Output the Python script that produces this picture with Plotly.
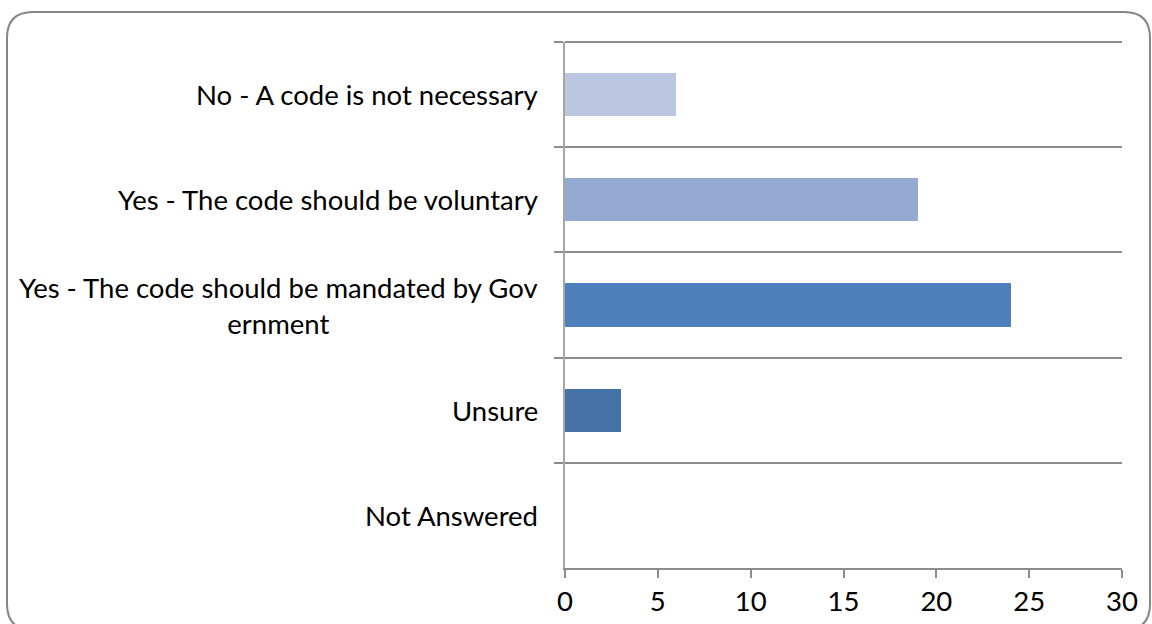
import plotly.graph_objects as go

# Survey responses: should there be a code?
categories = [
    "No - A code is not necessary",
    "Yes - The code should be voluntary",
    "Yes - The code should be mandated by Government",
    "Unsure",
    "Not Answered",
]
label_text = [
    "No - A code is not necessary",
    "Yes - The code should be voluntary",
    "Yes - The code should be mandated by Gov<br>ernment",
    "Unsure",
    "Not Answered",
]
counts = [6, 19, 24, 3, 0]
bar_colors = ["#BBC7E0", "#95AAD2", "#4E80BC", "#4573A8", "#3C6496"]
x_ticks = [0, 5, 10, 15, 20, 25, 30]

W, H = 1152, 624
M_L, M_R, M_T, M_B = 565, 30, 42, 56
PW, PH = W - M_L - M_R, H - M_T - M_B

FONT = "Lato"
FSIZE = 27.5
GRID = "#8C8C8C"


def px_x(p):
    return (p - M_L) / PW


def px_y(p):
    return (H - M_B - p) / PH


fig = go.Figure(
    go.Bar(
        x=counts,
        y=categories,
        orientation="h",
        width=0.41,
        marker=dict(color=bar_colors, line=dict(width=0)),
        hoverinfo="x+y",
    )
)

# Outer rounded frame
x0, y0, x1, y1, r = 7, 12, 1150, 630, 26
path = (
    f"M {px_x(x0 + r)} {px_y(y0)} L {px_x(x1 - r)} {px_y(y0)} "
    f"Q {px_x(x1)} {px_y(y0)} {px_x(x1)} {px_y(y0 + r)} "
    f"L {px_x(x1)} {px_y(y1 - r)} "
    f"Q {px_x(x1)} {px_y(y1)} {px_x(x1 - r)} {px_y(y1)} "
    f"L {px_x(x0 + r)} {px_y(y1)} "
    f"Q {px_x(x0)} {px_y(y1)} {px_x(x0)} {px_y(y1 - r)} "
    f"L {px_x(x0)} {px_y(y0 + r)} "
    f"Q {px_x(x0)} {px_y(y0)} {px_x(x0 + r)} {px_y(y0)} Z"
)
shapes = [
    dict(type="path", xref="paper", yref="paper", path=path,
         line=dict(color="#868686", width=2), layer="below"),
    # gridline on the top category boundary
    dict(type="line", xref="paper", yref="paper", x0=0, x1=1, y0=1, y1=1,
         line=dict(color=GRID, width=2), layer="below"),
]

annotations = [
    dict(
        text=t, x=px_x(540), xref="paper", y=c, yref="y",
        xanchor="right", yanchor="middle", align="center", showarrow=False,
        font=dict(family=FONT, size=FSIZE, color="#000000"),
    )
    for t, c in zip(label_text, categories)
]

fig.update_layout(
    width=W, height=H,
    margin=dict(l=M_L, r=M_R, t=M_T, b=M_B, pad=0, autoexpand=False),
    paper_bgcolor="white", plot_bgcolor="white",
    showlegend=False,
    bargap=0,
    shapes=shapes,
    annotations=annotations,
    font=dict(family=FONT, size=FSIZE, color="#000000"),
    xaxis=dict(
        range=[0, 30], tickvals=x_ticks, showgrid=False, zeroline=False,
        showline=True, linecolor=GRID, linewidth=2,
        ticks="outside", ticklen=8, tickwidth=2, tickcolor=GRID,
        tickfont=dict(family=FONT, size=FSIZE, color="#000000"),
        automargin=False, fixedrange=True,
    ),
    yaxis=dict(
        categoryorder="array", categoryarray=categories,
        autorange="reversed", tickson="boundaries",
        showticklabels=False, showgrid=True, gridcolor=GRID, gridwidth=2,
        showline=True, linecolor="#A6A6A6", linewidth=2,
        ticks="outside", ticklen=9, tickwidth=2, tickcolor=GRID,
        zeroline=False, automargin=False, fixedrange=True,
    ),
)

fig.write_html("out.html")
